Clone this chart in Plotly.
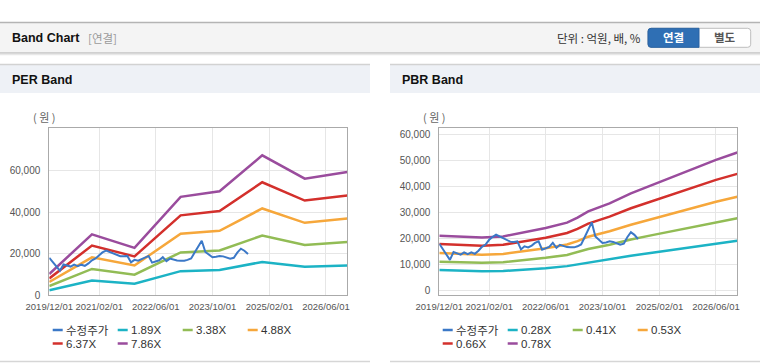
import plotly.graph_objects as go
import pandas as pd

W, H = 760, 364

# ---------------- data ----------------
price_name = "수정주가"
price_dates = pd.date_range("2019-12-01", "2024-08-01", freq="MS").strftime("%Y-%m-%d").tolist()
price = [18000, 16000, 13500, 11800, 14800, 14300, 13800, 14700, 14000, 14700,
         14100, 15300, 16800, 17700, 19500, 20600, 21500, 20800, 20100, 19200,
         18800, 18700, 18900, 15800, 17000, 16600, 17300, 18300, 18900, 15700,
         16200, 16800, 18300, 16400, 17600, 17000, 16700, 16600, 16600, 17000,
         17700, 20500, 23500, 26200, 20800, 19600, 18300, 18500, 18900, 18700,
         18000, 17600, 18000, 20500, 22400, 21400, 19800]

per_dates = ["2019-12-01", "2020-12-01", "2021-12-01", "2023-01-01",
             "2023-12-01", "2024-12-01", "2025-12-01", "2026-12-01"]
per_labels = ["1.89X", "3.38X", "4.88X", "6.37X", "7.86X"]
per_189 = [2400, 7050, 5550, 11600, 12200, 16000, 13700, 14300]
per_338 = [4450, 12650, 9900, 20600, 21500, 28700, 24200, 25600]
per_488 = [6400, 18250, 14300, 29600, 31000, 41700, 34800, 36900]
per_637 = [8100, 23900, 18700, 38400, 40500, 54300, 45500, 47900]
per_786 = [10250, 29300, 22800, 47300, 50000, 67200, 56000, 59200]

pbr_dates = ["2019-12-01", "2020-06-01", "2020-12-01", "2021-06-01", "2021-12-01",
             "2022-06-01", "2022-12-01", "2023-03-01", "2023-06-01", "2023-12-01",
             "2024-06-01", "2024-12-01", "2025-06-01", "2025-12-01", "2026-06-01",
             "2026-12-01"]
pbr_labels = ["0.28X", "0.41X", "0.53X", "0.66X", "0.78X"]
pbr_028 = [7900, 7600, 7400, 7500, 8000, 8600, 9400, 10050, 10900, 12050,
           13400, 14550, 15650, 16800, 18000, 19100]
pbr_041 = [11100, 10900, 10700, 10900, 11700, 12600, 13700, 14700, 16000, 17600,
           19600, 21300, 22900, 24600, 26400, 27800]
pbr_053 = [14400, 14100, 13800, 14100, 15200, 16300, 17700, 19000, 20700, 22800,
           25300, 27500, 29600, 31800, 34100, 36000]
pbr_066 = [17900, 17500, 17200, 17600, 18900, 20300, 22100, 23700, 25700, 28400,
           31600, 34300, 36900, 39600, 42500, 44800]
pbr_078 = [21100, 20700, 20400, 20800, 22300, 24000, 26100, 28000, 30400, 33500,
           37300, 40500, 43600, 46800, 50200, 53000]

x_tickvals = ["2019-12-01", "2021-02-01", "2022-06-01", "2023-10-01", "2025-02-01", "2026-06-01"]
x_ticktext = ["2019/12/01", "2021/02/01", "2022/06/01", "2023/10/01", "2025/02/01", "2026/06/01"]
per_yticks = [0, 20000, 40000, 60000]
pbr_yticks = [0, 10000, 20000, 30000, 40000, 50000, 60000]

# ---------------- style ----------------
price_color = "#3b78c7"
band_colors = ["#1cb3c5", "#92bc55", "#f6a73b", "#d3302c", "#9a4c9d"]
NUM_FONT = "Liberation Sans"
KR_FONT = "Noto Sans CJK KR"


def px(x):
    return x / W


def py(y):
    return 1 - y / H


fig = go.Figure()

per_series = [per_189, per_338, per_488, per_637, per_786]
pbr_series = [pbr_028, pbr_041, pbr_053, pbr_066, pbr_078]

for vals, lab, col in zip(per_series, per_labels, band_colors):
    fig.add_trace(go.Scatter(x=per_dates, y=vals, name=lab, mode="lines",
                             line=dict(color=col, width=2.5), xaxis="x", yaxis="y",
                             showlegend=False))
fig.add_trace(go.Scatter(x=price_dates, y=price, name=price_name, mode="lines",
                         line=dict(color=price_color, width=2), xaxis="x", yaxis="y",
                         showlegend=False))

for vals, lab, col in zip(pbr_series, pbr_labels, band_colors):
    fig.add_trace(go.Scatter(x=pbr_dates, y=vals, name=lab, mode="lines",
                             line=dict(color=col, width=2.5), xaxis="x2", yaxis="y2",
                             showlegend=False))
fig.add_trace(go.Scatter(x=price_dates, y=price, name=price_name, mode="lines",
                         line=dict(color=price_color, width=2), xaxis="x2", yaxis="y2",
                         showlegend=False))

ydom = [py(295.3), py(128.3)]
xaxis_common = dict(type="date", range=["2019-12-01", "2026-12-01"],
                    tickvals=x_tickvals, ticktext=x_ticktext, tickangle=0,
                    showgrid=True, gridcolor="#e6e6e6", gridwidth=1,
                    showline=True, linecolor="#aaaaaa", linewidth=1, mirror=True,
                    zeroline=False, ticks="", ticklabelstandoff=2, automargin=False,
                    tickfont=dict(family=NUM_FONT, size=9.5, color="#555555"))
yaxis_common = dict(showgrid=True, gridcolor="#e6e6e6", gridwidth=1,
                    showline=True, linecolor="#aaaaaa", linewidth=1, mirror=True,
                    zeroline=False, ticks="", ticklabelstandoff=6, automargin=False,
                    tickfont=dict(family=NUM_FONT, size=10, color="#555555"))

fig.update_layout(
    width=W, height=H,
    margin=dict(l=0, r=0, t=0, b=0, autoexpand=False),
    paper_bgcolor="white", plot_bgcolor="white",
    showlegend=False,
    xaxis=dict(domain=[px(49.3), px(347.3)], anchor="y", **xaxis_common),
    yaxis=dict(domain=ydom, anchor="x", range=[0, 80200],
               tickvals=per_yticks, ticktext=[f"{v:,}" for v in per_yticks], **yaxis_common),
    xaxis2=dict(domain=[px(439.3), px(737.3)], anchor="y2", **xaxis_common),
    yaxis2=dict(domain=ydom, anchor="x2", range=[-1800, 62300],
                tickvals=pbr_yticks, ticktext=[f"{v:,}" for v in pbr_yticks], **yaxis_common),
)

shapes = []


def rect(x0, y0, x1, y1, fill, line_color=None, lw=0):
    shapes.append(dict(type="rect", xref="paper", yref="paper", x0=px(x0), x1=px(x1),
                       y0=py(y1), y1=py(y0), fillcolor=fill, layer="below",
                       line=dict(color=line_color or fill, width=lw)))


def hline(x0, x1, y, color, lw=1):
    shapes.append(dict(type="line", xref="paper", yref="paper", x0=px(x0), x1=px(x1),
                       y0=py(y), y1=py(y), line=dict(color=color, width=lw), layer="below"))


def rounded_path(x0, y0, x1, y1, rl, rr):
    P = lambda x, y: f"{px(x)},{py(y)}"
    d = f"M {P(x0 + rl, y0)} L {P(x1 - rr, y0)} Q {P(x1, y0)} {P(x1, y0 + rr)} "
    d += f"L {P(x1, y1 - rr)} Q {P(x1, y1)} {P(x1 - rr, y1)} L {P(x0 + rl, y1)} "
    d += f"Q {P(x0, y1)} {P(x0, y1 - rl)} L {P(x0, y0 + rl)} Q {P(x0, y0)} {P(x0 + rl, y0)} Z"
    return d


# header bar
rect(0, 22.5, 760, 53, "#f4f4f4")
hline(0, 760, 22.5, "#b4b4b4", 1.5)
hline(0, 760, 53, "#c4c4c4", 1.5)
hline(0, 760, 54.5, "#e8e8e8", 1.5)

# buttons
shapes.append(dict(type="path", xref="paper", yref="paper",
                   path=rounded_path(648, 28.3, 750.7, 47.3, 3, 3),
                   fillcolor="white", line=dict(color="#bdbdbd", width=1)))
shapes.append(dict(type="path", xref="paper", yref="paper",
                   path=rounded_path(648, 28.3, 699, 47.3, 3, 0),
                   fillcolor="#2f6fb4", line=dict(color="#2a63a3", width=1)))

# panel headers
rect(0, 64.5, 370, 93, "#eef1f6")
hline(0, 370, 64.5, "#d2d2d2", 1.5)
rect(390, 64.5, 760, 93, "#eef1f6")
hline(390, 760, 64.5, "#d2d2d2", 1.5)

# panel bottoms
hline(0, 370, 361.5, "#d6d6d6", 1.5)
hline(390, 760, 361.5, "#d6d6d6", 1.5)

annotations = []


def text(x, y, s, size=12, color="#222", family=NUM_FONT, anchor="left", bold=False):
    if bold:
        s = f"<b>{s}</b>"
    annotations.append(dict(xref="paper", yref="paper", x=px(x), y=py(y), text=s,
                            showarrow=False, xanchor=anchor, yanchor="middle",
                            borderpad=0,
                            font=dict(family=family, size=size, color=color)))


text(11, 38, "Band Chart", 12.5, "#111111", bold=True)
text(87, 38, "[연결]", 11.5, "#9a9a9a", KR_FONT)
text(641.5, 38, "단위 : 억원, 배, %", 11.5, "#333333", KR_FONT, anchor="right")
text(673.5, 37.5, "연결", 11.5, "white", KR_FONT, anchor="center", bold=True)
text(725, 37.5, "별도", 11.5, "#555555", KR_FONT, anchor="center", bold=True)
text(11, 79.5, "PER Band", 12.5, "#111111", bold=True)
text(401, 79.5, "PBR Band", 12.5, "#111111", bold=True)
text(32, 117.5, "( 원 )", 11, "#666666", KR_FONT)
text(422, 117.5, "( 원 )", 11, "#666666", KR_FONT)


def legend(x_start, labels):
    items = [(price_name, price_color)] + list(zip(labels, band_colors))
    for i, (lab, col) in enumerate(items):
        row, colno = divmod(i, 4)
        x = x_start + 65 * colno
        y = 330 + 13.5 * row
        shapes.append(dict(type="line", xref="paper", yref="paper", x0=px(x), x1=px(x + 10),
                           y0=py(y), y1=py(y), line=dict(color=col, width=2.5)))
        fam = KR_FONT if lab == price_name else NUM_FONT
        text(x + 12.5, y, lab, 11.5, "#333333", fam)


legend(52.7, per_labels)
legend(442.7, pbr_labels)

fig.update_layout(shapes=shapes, annotations=annotations)
fig.write_html("out.html",
               config={"displayModeBar": False, "staticPlot": True},
               post_script="document.body.style.margin='0px';document.body.style.overflow='hidden';")
